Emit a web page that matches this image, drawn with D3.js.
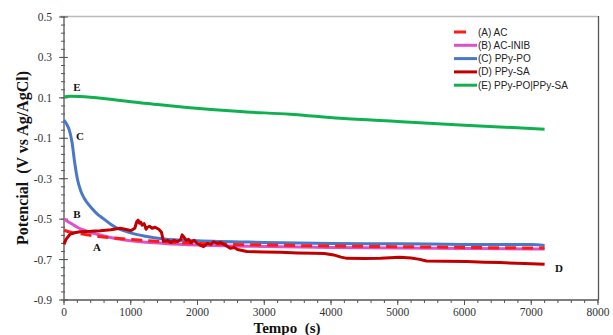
<!DOCTYPE html>
<html><head><meta charset="utf-8">
<script src="https://cdn.jsdelivr.net/npm/d3@7"></script>
<style>body{margin:0;background:#fff}</style>
</head><body>
<svg id="c" width="613" height="335"></svg>
<script>
const xTicks = [0,1000,2000,3000,4000,5000,6000,7000,8000];
const yTicks = [0.5,0.3,0.1,-0.1,-0.3,-0.5,-0.7,-0.9];
const seriesNames = ["(A) AC","(B) AC-INIB","(C) PPy-PO","(D) PPy-SA","(E) PPy-PO|PPy-SA"];
const seriesLabels = ["A","B","C","D","E"];
const seriesColors = ["#ff1a1a","#e050c8","#4a78c8","#c00000","#10b050"];

const tA = [0,100,300,500,1000,1500,2000,3000,4000,5000,6000,7200];
const vA = [-0.555,-0.565,-0.575,-0.585,-0.6,-0.612,-0.62,-0.628,-0.633,-0.636,-0.64,-0.643];
const tB = [0,100,200,300,500,750,1000,1500,2000,3000,4000,5000,6000,7200];
const vB = [-0.5,-0.52,-0.54,-0.555,-0.575,-0.595,-0.607,-0.62,-0.628,-0.635,-0.64,-0.643,-0.645,-0.648];
const tC = [0,40,80,120,160,200,250,300,400,500,600,700,800,1000,1200,1500,2000,3000,4000,5000,6000,7000,7200];
const vC = [-0.01,-0.03,-0.06,-0.12,-0.22,-0.3,-0.36,-0.395,-0.44,-0.475,-0.5,-0.525,-0.545,-0.568,-0.583,-0.598,-0.607,-0.615,-0.62,-0.622,-0.625,-0.626,-0.63];
const tD = [0,30,90,160,240,400,540,700,840,950,1000,1060,1090,1110,1130,1150,1170,1200,1230,1250,1280,1320,1365,1420,1460,1490,1550,1600,1650,1700,1750,1770,1800,1830,1865,1900,1950,1990,2050,2090,2150,2200,2240,2300,2340,2400,2450,2490,2550,2600,2740,3000,3240,3500,3740,3900,4040,4150,4240,4500,4740,5030,5200,5330,5430,5700,6030,6300,6530,6900,7200];
const vD = [-0.625,-0.6,-0.575,-0.567,-0.562,-0.56,-0.557,-0.552,-0.545,-0.552,-0.557,-0.545,-0.513,-0.505,-0.52,-0.515,-0.53,-0.522,-0.55,-0.54,-0.535,-0.545,-0.54,-0.55,-0.565,-0.61,-0.605,-0.615,-0.605,-0.612,-0.6,-0.578,-0.59,-0.605,-0.6,-0.615,-0.605,-0.618,-0.63,-0.636,-0.62,-0.625,-0.612,-0.62,-0.615,-0.625,-0.635,-0.644,-0.64,-0.65,-0.66,-0.662,-0.664,-0.667,-0.669,-0.67,-0.677,-0.688,-0.694,-0.695,-0.694,-0.689,-0.692,-0.699,-0.707,-0.708,-0.71,-0.713,-0.715,-0.72,-0.723];
const tE = [0,100,1139,1888,2637,3386,4135,5000,6000,7200];
const vE = [0.105,0.108,0.076,0.051,0.032,0.019,-0.001,-0.017,-0.035,-0.055];

const svg = d3.select("#c");
const x = d3.scaleLinear().domain([0,8000]).range([64,598]);
const y = d3.scaleLinear().domain([-0.9,0.5]).range([300,17]);

// frame
svg.append("line").attr("x1",60).attr("x2",598).attr("y1",16.5).attr("y2",16.5).attr("stroke","#bbb").attr("stroke-width",1.5);
svg.append("line").attr("x1",598.5).attr("x2",598.5).attr("y1",16).attr("y2",300).attr("stroke","#555").attr("stroke-width",1.3);

// y axis
const gy = svg.append("g").attr("transform","translate(64,0)");
gy.append("line").attr("x1",0).attr("x2",0).attr("y1",17).attr("y2",300).attr("stroke","#555").attr("stroke-width",1.3);
const yMinor = d3.range(0,36).map(i=>-0.9+i*0.04);
gy.selectAll(".ym").data(yMinor).join("line").attr("x1",-3).attr("x2",1).attr("y1",d=>y(d)).attr("y2",d=>y(d)).attr("stroke","#555");
gy.selectAll(".yM").data(yTicks).join("line").attr("x1",-5).attr("x2",4).attr("y1",d=>y(d)).attr("y2",d=>y(d)).attr("stroke","#555");
gy.selectAll("text").data(yTicks).join("text").attr("x",-12).attr("y",d=>y(d)).attr("dy","0.35em")
  .attr("text-anchor","end").attr("font-family","Liberation Serif").attr("font-size",11.5).attr("fill","#333").text(d=>d.toFixed(1));

// x axis
const gx = svg.append("g").attr("transform","translate(0,300)");
gx.append("line").attr("x1",64).attr("x2",598).attr("y1",0).attr("y2",0).attr("stroke","#555").attr("stroke-width",1.3);
const xMinor = d3.range(0,41).map(i=>i*200);
gx.selectAll(".xm").data(xMinor).join("line").attr("x1",d=>x(d)).attr("x2",d=>x(d)).attr("y1",0).attr("y2",3).attr("stroke","#555");
gx.selectAll(".xM").data(xTicks).join("line").attr("x1",d=>x(d)).attr("x2",d=>x(d)).attr("y1",0).attr("y2",5).attr("stroke","#555");
gx.selectAll("text").data(xTicks).join("text").attr("x",d=>x(d)).attr("y",16)
  .attr("text-anchor","middle").attr("font-family","Liberation Serif").attr("font-size",11.5).attr("fill","#333").text(d=>d);

// titles
svg.append("text").attr("x",287).attr("y",333).attr("text-anchor","middle").attr("font-family","Liberation Serif")
  .attr("font-weight","bold").attr("font-size",15).attr("fill","#111").attr("xml:space","preserve").text("Tempo  (s)");
svg.append("text").attr("transform","translate(28,158) rotate(-90)").attr("text-anchor","middle").attr("font-family","Liberation Serif")
  .attr("font-weight","bold").attr("font-size",16).attr("fill","#111").attr("xml:space","preserve").text("Potencial  (V vs Ag/AgCl)");

// series
const data = [[tA,vA],[tB,vB],[tC,vC],[tD,vD],[tE,vE]];
const smooth = d3.line().x(d=>x(d[0])).y(d=>y(d[1])).curve(d3.curveMonotoneX);
const straight = d3.line().x(d=>x(d[0])).y(d=>y(d[1]));
const order = [4,2,1,0,3];
order.forEach(i=>{
  const pts = data[i][0].map((t,j)=>[t,data[i][1][j]]);
  const p = svg.append("path").datum(pts).attr("d",i===3?straight:smooth).attr("fill","none")
    .attr("stroke",seriesColors[i]).attr("stroke-width",3).attr("stroke-linejoin","round");
  if(i===0) p.attr("stroke-dasharray","11,6");
});

// curve labels
const labelPos = [[97,247],[77,214],[80,136],[559,268],[77,87]];
svg.selectAll(".lbl").data(seriesLabels).join("text").attr("x",(d,i)=>labelPos[i][0]).attr("y",(d,i)=>labelPos[i][1])
  .attr("dy","0.35em").attr("text-anchor","middle").attr("font-family","Liberation Serif").attr("font-weight","bold")
  .attr("font-size",11).attr("fill","#111").text(d=>d);

// legend
const lg = svg.append("g");
seriesNames.forEach((n,i)=>{
  const yy = 32 + i*13.3;
  lg.append("line").attr("x1",454).attr("x2",i===0?466:477).attr("y1",yy).attr("y2",yy)
    .attr("stroke",seriesColors[i]).attr("stroke-width",3);
  lg.append("text").attr("x",478).attr("y",yy).attr("dy","0.35em").attr("font-family","Liberation Sans")
    .attr("font-size",10).attr("fill","#222").text(n);
});
</script>
</body></html>
